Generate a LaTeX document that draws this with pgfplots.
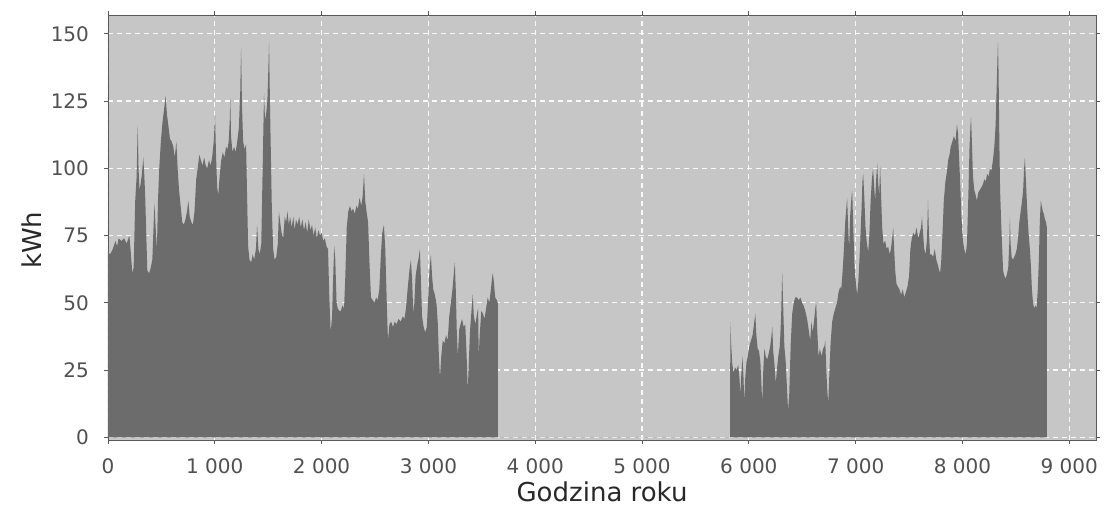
\documentclass[border=0pt]{standalone}
\usepackage{fontspec}
\setmainfont{DejaVu Sans}
\usepackage{pgfplots}
\pgfplotsset{compat=1.18}
\usetikzlibrary{calc}
\definecolor{plotbg}{RGB}{198,198,198}
\definecolor{areafill}{RGB}{108,108,108}
\definecolor{ticktext}{RGB}{80,80,80}
\definecolor{labeltext}{RGB}{40,40,40}

\begin{document}
\begin{tikzpicture}
\begin{axis}[
  scale only axis,
  width=494pt, height=212.5pt,
  xmin=0, xmax=9250, ymin=-1, ymax=157,
  axis background/.style={fill=plotbg},
  axis line style={draw=gray!70!black, line width=0.4pt},
  xtick={0,1000,...,9000},
  xticklabels={0,1 000,2 000,3 000,4 000,5 000,6 000,7 000,8 000,9 000},
  ytick={0,25,...,150},
  grid=major,
  major grid style={white!95!gray, line width=0.6pt, dash pattern=on 2.5pt off 2pt},
  tick align=outside, major tick length=2pt,
  tick style={gray!70!black, line width=0.4pt},
  ticklabel style={font=\fontsize{10}{12}\selectfont, text=ticktext},
  /pgf/number format/assume math mode=true,
  xticklabel style={yshift=-4pt},
  yticklabel style={xshift=-4pt},
  xlabel={Godzina roku}, ylabel={kWh},
  label style={font=\fontsize{13}{15}\selectfont, text=labeltext},
  x label style={at={(axis description cs:0.5,-0.122)}, anchor=center},
  y label style={at={(axis description cs:-0.077,0.47)}, anchor=center},
]
% godzinowe zapotrzebowanie (odczyt z wykresu)
\addplot[fill=areafill, draw=none] coordinates {
(0,0) (0,69) (20,68) (45,70) (70,73) (85,71) (100,74) (125,73) (150,74) (175,72)
(200,75) (215,68) (228,61) (240,63) (255,88) (268,97) (278,116) (286,100) (295,92)
(305,94) (318,98) (330,104) (338,99) (348,90) (358,76) (368,62) (385,61) (400,63)
(415,66) (428,80) (436,87) (446,78) (458,70) (468,88) (480,100) (495,110) (510,117)
(525,122) (540,127) (552,120) (565,116) (580,111) (595,110) (612,108) (625,104)
(640,110) (652,100) (665,92) (680,86) (695,80) (710,79) (725,81) (740,84) (752,88)
(765,82) (780,80) (795,79) (810,84) (826,96) (840,100) (855,105) (870,103) (885,101)
(900,104) (915,101) (930,100) (945,103) (960,101) (975,104) (990,110) (1002,120)
(1012,104) (1022,93) (1032,90) (1045,97) (1060,103) (1075,106) (1090,104) (1105,108)
(1118,107) (1130,110) (1140,118) (1145,126) (1152,112) (1165,106) (1180,108)
(1195,106) (1210,110) (1225,115) (1238,128) (1246,145) (1254,124) (1265,110)
(1280,107) (1293,109) (1302,90) (1312,71) (1325,66) (1340,65) (1355,68) (1368,66)
(1385,70) (1396,79) (1408,70) (1420,68) (1435,72) (1448,100) (1461,128) (1470,118)
(1480,120) (1492,125) (1500,135) (1508,147) (1516,125) (1525,105) (1534,85)
(1546,70) (1560,66) (1575,67) (1590,72) (1600,84) (1612,80) (1625,76) (1640,74)
(1655,82) (1668,80) (1680,84) (1693,79) (1705,82) (1720,78) (1735,82) (1748,77)
(1760,81) (1775,79) (1790,82) (1805,78) (1820,81) (1835,77) (1850,80) (1865,76)
(1880,81) (1895,77) (1910,79) (1925,75) (1940,78) (1955,74) (1970,77) (1985,75)
(2000,76) (2015,73) (2030,74) (2045,71) (2060,70) (2072,52) (2085,39) (2098,45)
(2110,62) (2118,71) (2128,66) (2140,50) (2150,48) (2165,47) (2180,47) (2195,49)
(2210,48) (2222,60) (2235,78) (2250,84) (2265,86) (2280,84) (2295,85) (2310,83)
(2325,86) (2340,85) (2355,89) (2372,86) (2385,90) (2397,98) (2408,88) (2420,84)
(2435,80) (2448,65) (2462,52) (2478,51) (2495,50) (2510,52) (2525,51) (2540,55)
(2555,68) (2568,76) (2583,79) (2596,70) (2610,50) (2621,36) (2635,42) (2650,43)
(2668,41) (2685,43) (2700,42) (2720,44) (2740,43) (2760,45) (2775,44) (2790,48)
(2805,55) (2822,62) (2836,66) (2848,58) (2858,46) (2868,50) (2880,60) (2895,64)
(2910,67) (2920,70) (2930,58) (2940,45) (2955,41) (2970,39) (2985,41) (2998,52)
(3010,62) (3023,68) (3034,60) (3045,55) (3060,53) (3075,50) (3088,42) (3098,30)
(3108,22) (3120,30) (3134,36) (3150,35) (3165,38) (3180,36) (3195,45) (3210,50)
(3225,55) (3240,62) (3247,65) (3256,55) (3265,40) (3275,30) (3288,40) (3300,42)
(3315,44) (3330,41) (3345,42) (3358,30) (3368,17) (3378,28) (3390,40) (3405,48)
(3415,53) (3425,45) (3440,42) (3455,46) (3465,48) (3471,30) (3480,38) (3495,47)
(3510,46) (3525,44) (3540,48) (3555,52) (3570,50) (3585,55) (3595,59) (3602,61)
(3612,58) (3625,52) (3640,51) (3649,50) (3650,0)
(5825,0) (5826,43) (5834,35) (5845,27) (5858,24) (5870,26) (5885,25) (5900,27)
(5912,22) (5920,16) (5930,24) (5940,30) (5950,22) (5957,13) (5966,22) (5978,28)
(5990,30) (6005,34) (6020,36) (6035,38) (6048,42) (6060,46) (6070,38) (6082,33)
(6095,32) (6108,28) (6117,20) (6125,13) (6135,25) (6145,33) (6158,30) (6172,29)
(6185,31) (6200,34) (6212,38) (6219,41) (6228,32) (6240,27) (6252,20) (6262,25)
(6275,30) (6290,34) (6302,45) (6312,61) (6322,48) (6332,34) (6345,28) (6357,18)
(6367,10) (6378,16) (6392,35) (6406,46) (6420,50) (6434,52) (6450,52) (6468,51)
(6482,52) (6498,50) (6512,49) (6528,47) (6545,44) (6560,40) (6574,36) (6586,43)
(6598,39) (6612,44) (6622,48) (6630,50) (6640,40) (6652,30) (6665,33) (6680,30)
(6695,33) (6708,34) (6715,36) (6725,25) (6735,17) (6743,12.5) (6752,22) (6765,35)
(6780,43) (6795,46) (6810,48) (6825,50) (6840,54) (6855,56) (6865,55) (6878,62)
(6890,70) (6902,80) (6912,85) (6920,89) (6928,80) (6938,70) (6948,82) (6958,88)
(6967,92) (6976,80) (6990,63) (7005,56) (7014,53) (7025,58) (7040,70) (7055,85)
(7063,95) (7070,98) (7080,90) (7092,78) (7105,72) (7117,69) (7128,75) (7140,88)
(7152,96) (7163,100) (7172,94) (7182,88) (7192,96) (7201,102) (7210,95) (7220,90)
(7229,101) (7238,90) (7248,78) (7260,72) (7276,73) (7290,70) (7304,71) (7318,68)
(7330,70) (7342,74) (7351,78) (7360,70) (7370,62) (7382,57) (7395,56) (7410,55)
(7425,53) (7440,55) (7455,52) (7470,54) (7485,56) (7500,60) (7512,70) (7525,74)
(7540,76) (7555,75) (7570,78) (7585,74) (7600,76) (7612,78) (7621,82) (7630,76)
(7642,70) (7655,68) (7668,74) (7677,88) (7686,76) (7696,68) (7710,68) (7725,67)
(7740,70) (7755,66) (7770,64) (7782,62) (7790,61) (7800,65) (7812,75) (7825,88)
(7840,95) (7855,99) (7866,103) (7878,105) (7890,108) (7905,110) (7920,112)
(7935,110) (7948,116.5) (7958,113) (7968,104) (7978,95) (7990,82) (8004,73)
(8016,70) (8030,68) (8042,72) (8055,90) (8066,108) (8075,116) (8080,119) (8088,110)
(8098,97) (8110,92) (8123,90) (8135,88) (8148,91) (8163,92) (8178,93) (8191,94)
(8205,96) (8218,95) (8230,98) (8245,97) (8257,100) (8270,99) (8285,103) (8298,108)
(8310,116) (8320,130) (8328,142) (8332,147) (8338,135) (8345,110) (8352,92)
(8362,80) (8372,70) (8380,62) (8392,60) (8405,59) (8418,61) (8428,63) (8438,72)
(8444,82) (8450,72) (8460,67) (8472,66) (8484,67) (8495,68) (8508,70) (8520,74)
(8532,80) (8545,84) (8558,88) (8568,92) (8577,100) (8584,104) (8592,97) (8602,88)
(8612,80) (8622,74) (8631,70) (8640,64) (8650,55) (8660,50) (8670,48) (8682,49)
(8694,48) (8705,55) (8715,66) (8724,80) (8733,88) (8742,86) (8752,84) (8762,83)
(8772,81) (8782,80) (8790,78) (8791,0)
} \closedcycle;
\end{axis}
\pgfresetboundingbox
\path ($(current axis.south west)+(-54pt,-38.5pt)$) rectangle ($(current axis.north east)+(4pt,7.5pt)$);
\end{tikzpicture}
\end{document}
